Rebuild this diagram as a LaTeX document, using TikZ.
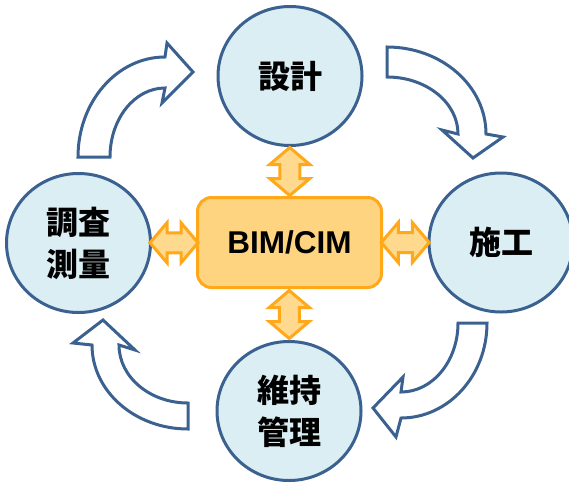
\documentclass[tikz,border=0pt]{standalone}
\usepackage{fontspec}
\setmainfont{Liberation Sans}
\newfontfamily\cjk{Noto Sans CJK JP}
\usetikzlibrary{shapes.geometric,calc}
\definecolor{circfill}{HTML}{DAEEF3}
\definecolor{circline}{HTML}{3A6190}
\definecolor{orline}{HTML}{FFA81A}
\definecolor{orfill}{HTML}{FFD480}
\definecolor{orfilllt}{HTML}{FFDA8E}
\begin{document}
\begin{tikzpicture}[x=1pt,y=-1pt,
  phase/.style={ellipse, draw=circline, fill=circfill, line width=3pt,
    minimum width=144pt, minimum height=139pt, inner sep=0pt, align=center,
    font=\cjk\bfseries\fontsize{32}{42}\selectfont},
  cyc/.style={draw=circline, fill=white, line width=3pt, miter limit=20},
  orarrow/.style={draw=orline, fill=orfilllt, line width=3pt, miter limit=20},
  dbl/.pic={\path[orarrow] (-24,0) -- (-7,-20) -- (-7,-10) -- (7,-10) -- (7,-20)
    -- (24,0) -- (7,20) -- (7,10) -- (-7,10) -- (-7,20) -- cycle;}]
\useasboundingbox (0,0) rectangle (569,482);

% cycle arrows
\draw[cyc] (78,157) arc[start angle=180, end angle=270, x radius=87, y radius=100]
  -- (167,43) -- (193,72) -- (162,103) -- (165,88)
  arc[start angle=270, end angle=180, x radius=55, y radius=69] -- cycle;
\draw[cyc] (387,47) arc[start angle=270, end angle=360, x radius=99, y radius=87]
  -- (503,137) -- (473,158) -- (442,130) -- (458,134)
  arc[start angle=360, end angle=270, x radius=71, y radius=57] -- cycle;
\draw[cyc] (487,323) arc[start angle=0, end angle=90, x radius=86, y radius=95]
  -- (396,437) -- (373,408) -- (403,377) -- (401,392)
  arc[start angle=90, end angle=0, x radius=57, y radius=69] -- cycle;
\draw[cyc] (188,429) arc[start angle=90, end angle=180, x radius=96, y radius=84]
  -- (73,343) -- (103,320) -- (135,350) -- (119,345)
  arc[start angle=180, end angle=90, x radius=69, y radius=58] -- cycle;

% phases
\node[phase] (sekkei) at (290,76) {設計};
\node[phase] (chosa) at (78.5,243) {調査\\測量};
\node[phase] (seko) at (501,242.5) {施工};
\node[phase] (iji) at (289,411) {維持\\管理};

% center
\node[draw=orline, fill=orfill, line width=3pt, rounded corners=14pt,
  minimum width=184pt, minimum height=90pt, inner sep=0pt,
  font=\bfseries\fontsize{31.5}{36}\selectfont] (bim) at (289.5,242.5) {BIM/CIM};

% double arrows
\pic[rotate=90] at ($(sekkei.south)!0.5!(bim.north)$) {dbl};
\pic[rotate=90] at ($(iji.north)!0.5!(bim.south)$) {dbl};
\pic at ($(chosa.east)!0.5!(bim.west)$) {dbl};
\pic at ($(seko.west)!0.5!(bim.east)$) {dbl};
\end{tikzpicture}
\end{document}
